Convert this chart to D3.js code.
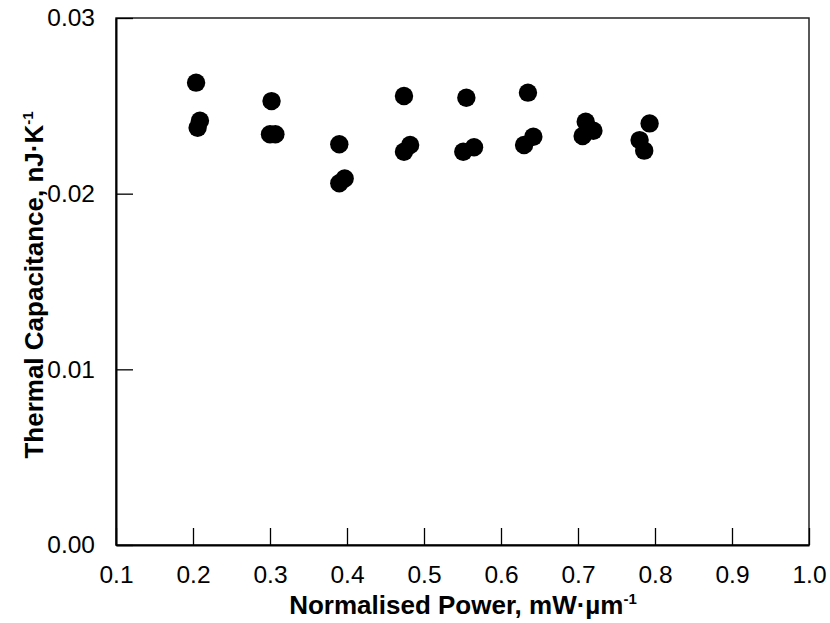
<!DOCTYPE html>
<html>
<head>
<meta charset="utf-8">
<script src="https://cdn.jsdelivr.net/npm/d3@7"></script>
<style>
  html, body { margin: 0; padding: 0; background: #fff; }
  svg { display: block; }
  text { font-family: "Liberation Sans", Arial, sans-serif; fill: #000; }
</style>
</head>
<body>
<svg id="chart" width="830" height="623"></svg>
<script>
// Measured normalised power (mW/µm) and thermal capacitance (nJ/K)
const power = [
  0.204, 0.206, 0.209,
  0.302, 0.300, 0.307,
  0.390, 0.390, 0.397,
  0.474, 0.474, 0.482,
  0.555, 0.551, 0.565,
  0.635, 0.630, 0.642,
  0.710, 0.706, 0.720,
  0.793, 0.780, 0.786
];
const capacitance = [
  0.02632, 0.02375, 0.02415,
  0.02527, 0.02338, 0.02338,
  0.02281, 0.02059, 0.02087,
  0.02556, 0.02239, 0.02277,
  0.02546, 0.02239, 0.02264,
  0.02575, 0.02277, 0.02324,
  0.02410, 0.02328, 0.02358,
  0.02400, 0.02305, 0.02245
];
const xTicks = [0.1, 0.2, 0.3, 0.4, 0.5, 0.6, 0.7, 0.8, 0.9, 1.0];
const yTicks = [0.00, 0.01, 0.02, 0.03];

const svg = d3.select("#chart");
const m = { left: 116, right: 809, top: 18, bottom: 545 };

const x = d3.scaleLinear().domain([0.1, 1.0]).range([m.left, m.right]);
const y = d3.scaleLinear().domain([0, 0.03]).range([m.bottom, m.top]);

// frame
svg.append("rect")
  .attr("x", m.left).attr("y", m.top)
  .attr("width", m.right - m.left).attr("height", m.bottom - m.top)
  .attr("fill", "none").attr("stroke", "#222").attr("stroke-width", 1.5);

const tickFont = sel => sel
  .style("font-family", '"Liberation Sans", Arial, sans-serif')
  .style("font-size", "24.5px").attr("fill", "#000");

// x axis: inward ticks along the bottom
const xAxis = svg.append("g")
  .attr("transform", `translate(0,${m.bottom})`)
  .call(d3.axisBottom(x).tickValues(xTicks).tickSizeInner(-17).tickSizeOuter(0)
    .tickPadding(21).tickFormat(d3.format(".1f")));
xAxis.select(".domain").attr("stroke", "#000").attr("stroke-width", 2);
xAxis.selectAll(".tick line").attr("stroke", "#000").attr("stroke-width", 1.3);
xAxis.selectAll(".tick text").call(tickFont);

// y axis: inward ticks along the left
const yAxis = svg.append("g")
  .attr("transform", `translate(${m.left},0)`)
  .call(d3.axisLeft(y).tickValues(yTicks).tickSizeInner(-17).tickSizeOuter(0)
    .tickPadding(21).tickFormat(d3.format(".2f")));
yAxis.select(".domain").attr("stroke", "#000").attr("stroke-width", 2);
yAxis.selectAll(".tick line").attr("stroke", "#000").attr("stroke-width", 1.3);
yAxis.selectAll(".tick text").call(tickFont);

// data points
svg.append("g").selectAll("circle")
  .data(power.map((p, i) => [p, capacitance[i]]))
  .join("circle")
  .attr("cx", d => x(d[0]))
  .attr("cy", d => y(d[1]))
  .attr("r", 9.2)
  .attr("fill", "#000");

// axis titles
const xt = svg.append("text")
  .attr("x", 463).attr("y", 614)
  .attr("text-anchor", "middle")
  .style("font-size", "26px").style("font-weight", "bold");
xt.append("tspan").text("Normalised Power, mW·µm");
xt.append("tspan").attr("dy", -10).style("font-size", "15px").text("-1");

const yt = svg.append("text")
  .attr("transform", `translate(43,285) rotate(-90)`)
  .attr("text-anchor", "middle")
  .style("font-size", "26px").style("font-weight", "bold");
yt.append("tspan").text("Thermal Capacitance, nJ·K");
yt.append("tspan").attr("dy", -10).style("font-size", "15px").text("-1");
</script>
</body>
</html>
